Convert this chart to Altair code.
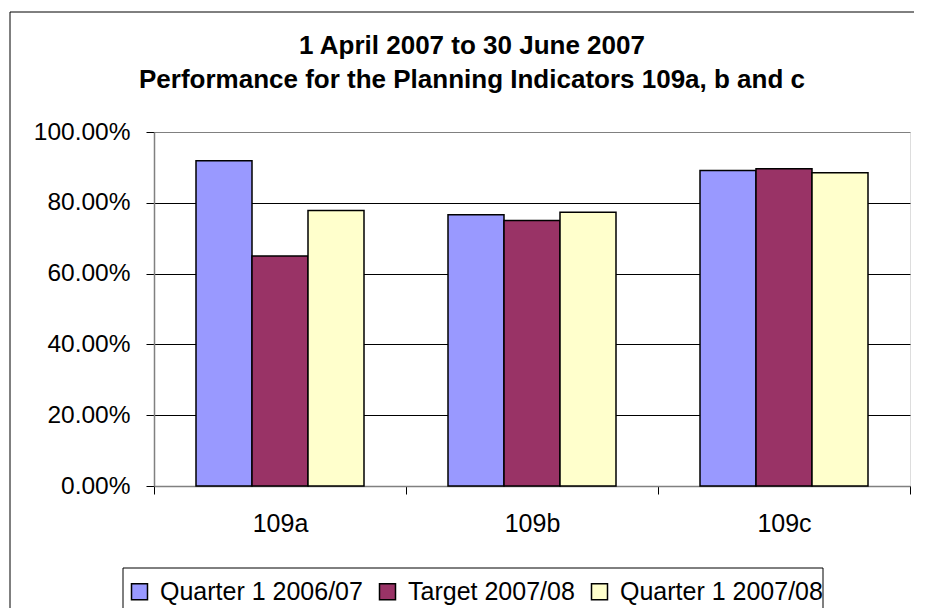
import altair as alt
import pandas as pd

categories = ["109a", "109b", "109c"]
series = ["Quarter 1 2006/07", "Target 2007/08", "Quarter 1 2007/08"]
q1_2006 = [0.919, 0.766, 0.891]
target_2007 = [0.65, 0.75, 0.896]
q1_2007 = [0.778, 0.773, 0.885]
colors = ["#9999FF", "#993366", "#FFFFCC"]
y_ticks = [0, 0.2, 0.4, 0.6, 0.8, 1.0]
title_lines = ["1 April 2007 to 30 June 2007",
               "Performance for the Planning Indicators 109a, b and c"]

rows = []
for s, vals in zip(series, [q1_2006, target_2007, q1_2007]):
    for c, v in zip(categories, vals):
        rows.append({"indicator": c, "series": s, "value": v})
df = pd.DataFrame(rows)

FONT = "Liberation Sans"

bars = alt.Chart(df).mark_bar(stroke="black", strokeWidth=1.5).encode(
    x=alt.X("indicator:N", sort=categories,
            scale=alt.Scale(paddingInner=0, paddingOuter=0),
            axis=alt.Axis(title=None, labelAngle=0, labelFontSize=25, labelFont=FONT,
                          labelColor="black", tickBand="extent", tickSize=8,
                          tickColor="black", domainColor="#808080", domainWidth=1.5,
                          labelPadding=17)),
    xOffset=alt.XOffset("series:N", sort=series,
                        scale=alt.Scale(paddingInner=0, paddingOuter=0.75)),
    y=alt.Y("value:Q", scale=alt.Scale(domain=[0, 1], nice=False),
            axis=alt.Axis(title=None, format=".2%", values=y_ticks, labelFontSize=24.5,
                          labelFont=FONT, labelColor="black", tickSize=8,
                          tickColor="black", domainColor="#808080", domainWidth=1.5,
                          labelPadding=16, grid=True,
                          gridColor=alt.expr("datum.value >= 1 ? '#808080' : 'black'"),
                          gridWidth=1)),
    color=alt.Color("series:N", sort=series,
                    scale=alt.Scale(domain=series, range=colors),
                    legend=alt.Legend(title=None, orient="none", legendX=-27, legendY=447,
                                      direction="horizontal", padding=0,
                                      symbolType="square", symbolSize=256,
                                      symbolStrokeColor="black", symbolStrokeWidth=1.5,
                                      labelFontSize=25, labelFont=FONT, labelColor="black",
                                      labelLimit=0, columnPadding=12, labelOffset=8)),
)

frame_data = alt.Data(values=[{"a": 1}])
top_edge = alt.Chart(frame_data).mark_rule(color="black", strokeWidth=1).encode(
    x=alt.value(-144), x2=alt.value(760), y=alt.value(-120))
left_edge = alt.Chart(frame_data).mark_rule(color="black", strokeWidth=1).encode(
    x=alt.value(-144), y=alt.value(-120), y2=alt.value(480))
legend_box = alt.Chart(frame_data).mark_rect(
    fill="white", stroke="black", strokeWidth=1
).encode(x=alt.value(-31), x2=alt.value(669), y=alt.value(436), y2=alt.value(520))

title1 = alt.Chart(alt.Data(values=[{"t": title_lines[0]}])).mark_text(
    font=FONT, fontSize=26, fontWeight="bold", color="black",
    align="center", baseline="alphabetic"
).encode(text="t:N", x=alt.value(318), y=alt.value(-78))

title2 = alt.Chart(alt.Data(values=[{"t": title_lines[1]}])).mark_text(
    font=FONT, fontSize=26, fontWeight="bold", color="black",
    align="center", baseline="alphabetic"
).encode(text="t:N", x=alt.value(318), y=alt.value(-44))

chart = alt.layer(top_edge, left_edge, legend_box, bars, title1, title2).properties(
    width=756, height=354,
    autosize=alt.AutoSizeParams(type="none"),
    padding={"left": 146, "top": 124, "right": 8, "bottom": 122},
).configure_view(stroke="#808080", strokeWidth=1.5).configure(background="white")

chart.save("out.html", embed_options={"renderer": "svg", "actions": False})
